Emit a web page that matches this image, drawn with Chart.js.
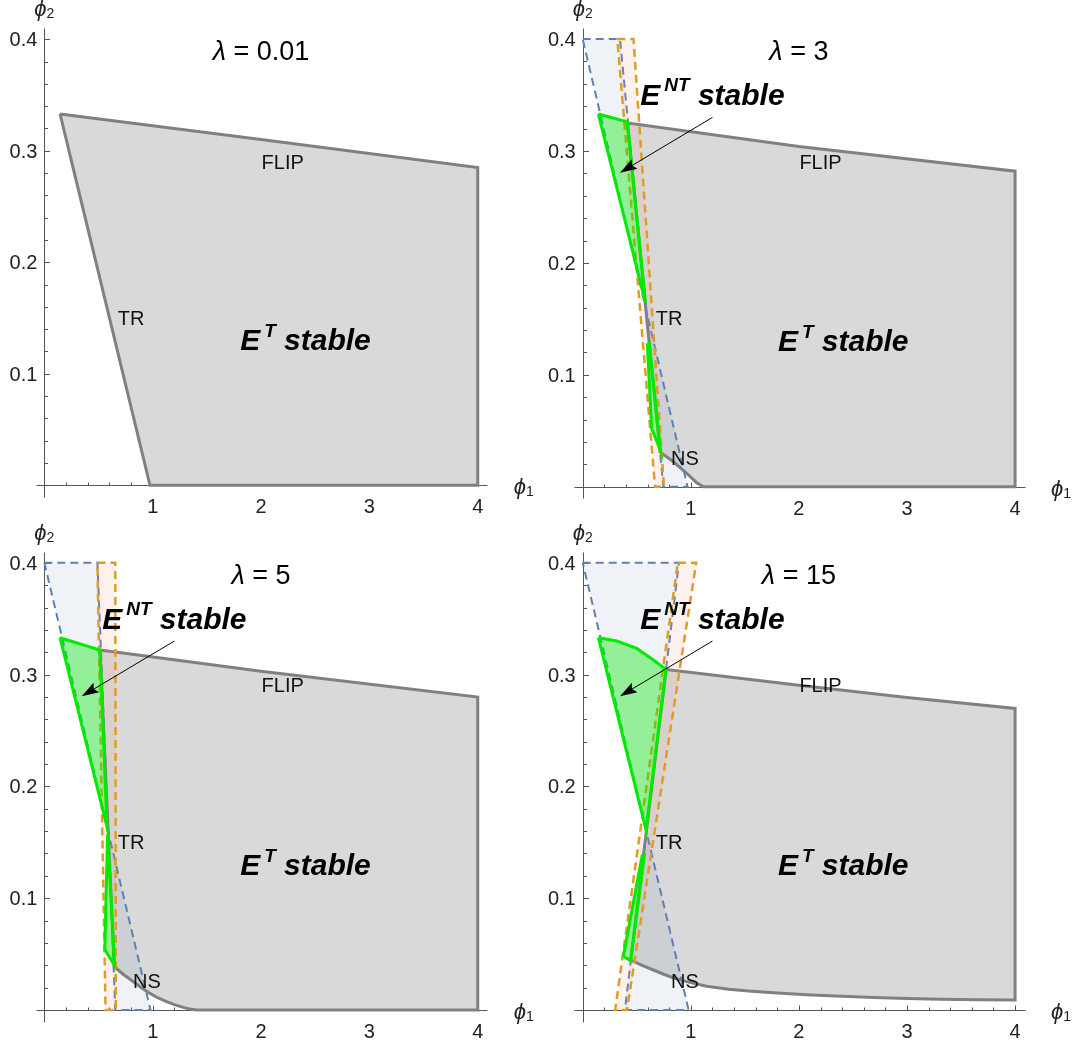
<!DOCTYPE html>
<html>
<head>
<meta charset="utf-8">
<script src="https://cdn.jsdelivr.net/npm/chart.js@4.4.0/dist/chart.umd.min.js"></script>
<style>
html, body { margin: 0; padding: 0; background: #fff; }
#wrap { position: relative; width: 1081px; height: 1042px; }
canvas { position: absolute; }
</style>
</head>
<body>
<div id="wrap">
  <canvas id="c1" width="540" height="520" style="left:0;top:0"></canvas>
  <canvas id="c2" width="541" height="520" style="left:540px;top:0"></canvas>
  <canvas id="c3" width="540" height="522" style="left:0;top:520px"></canvas>
  <canvas id="c4" width="541" height="522" style="left:540px;top:520px"></canvas>
</div>
<script>
// values, as (phi1, phi2) pairs
var lambdas = ['0.01', '3', '5', '15'];
var xMajor = [1, 2, 3, 4];
var yMajor = [0.1, 0.2, 0.3, 0.4];

var gray1 = [[0.145, 0.333], [2, 0.31], [4, 0.285], [4, 0], [0.975, 0], [0.145, 0.333]];

var gray2 = [[0.413, 0.325], [2, 0.304], [4, 0.282], [4, 0], [1.116, 0], [1.055, 0.0036], [0.962, 0.0119], [0.839, 0.0223], [0.715, 0.031], [0.413, 0.325]];
var blue2 = [[0, 0.4], [0.345, 0.4], [0.746, 0], [0.97, 0], [0, 0.4]];
var orange2 = [[0.32, 0.4], [0.47, 0.4], [0.752, 0], [0.669, 0], [0.32, 0.4]];
var greenTop2 = [[0.145, 0.333], [0.413, 0.326], [0.58, 0.165], [0.145, 0.333]];
var greenLow2 = [[0.598, 0.128], [0.617, 0.128], [0.72, 0.032], [0.638, 0.052], [0.598, 0.128]];

var gray3 = [[0.514, 0.322], [2, 0.303], [4, 0.28], [4, 0], [1.406, 0], [1.34, 0.001], [1.283, 0.0024], [1.2, 0.0048], [1.129, 0.0075], [1.05, 0.0108], [0.975, 0.0149], [0.9, 0.0198], [0.822, 0.0253], [0.73, 0.0318], [0.646, 0.0387], [0.514, 0.322]];
var blue3 = [[0, 0.4], [0.49, 0.4], [0.655, 0], [0.98, 0], [0, 0.4]];
var orange3 = [[0.49, 0.4], [0.655, 0.4], [0.66, 0], [0.565, 0], [0.49, 0.4]];
var greenTop3 = [[0.145, 0.333], [0.514, 0.322], [0.578, 0.164], [0.145, 0.333]];
var greenLow3 = [[0.584, 0.157], [0.648, 0.04], [0.558, 0.054], [0.584, 0.157]];

var gray4 = [[0.771, 0.3046], [2, 0.2905], [3, 0.2795], [4, 0.2697], [4, 0.0089], [3.65, 0.0092], [3.3, 0.0097], [3.0, 0.0104], [2.69, 0.0113], [2.4, 0.0123], [2.07, 0.0137], [1.8, 0.0152], [1.563, 0.0168], [1.35, 0.0186], [1.147, 0.0212], [0.95, 0.0256], [0.839, 0.0288], [0.75, 0.032], [0.654, 0.0358], [0.55, 0.04], [0.444, 0.0447], [0.771, 0.3046]];
var blue4 = [[0, 0.4], [0.89, 0.4], [0.39, 0], [0.98, 0], [0, 0.4]];
var orange4 = [[0.88, 0.4], [1.05, 0.4], [0.41, 0], [0.3, 0], [0.88, 0.4]];
var greenTop4 = [[0.145, 0.333], [0.315, 0.33], [0.5, 0.3234], [0.654, 0.313], [0.771, 0.3046], [0.586, 0.161], [0.145, 0.333]];
var greenLow4 = [[0.552, 0.139], [0.572, 0.139], [0.444, 0.044], [0.376, 0.048], [0.552, 0.139]];

// where the annotations sit, in axis units
var anchors = {
  title: [2.0, 0.381], flip: [2.2, 0.289], tr: [0.8, 0.149], ns: [0.946, 0.0246],
  et: [2.41, 0.121], ent: [1.2, 0.341], arrowFrom: [1.2, 0.33], arrowTo: [0.345, 0.2806]
};

var FONT = "'Liberation Sans', Arial, sans-serif";

var styles = {
  gray: { borderColor: '#808080', borderWidth: 3, areaColor: 'rgb(217,217,217)', order: 4 },
  blue: { borderColor: '#5e81b5', borderWidth: 2, borderDash: [8, 5], areaColor: 'rgba(94,129,181,0.1)', order: 3 },
  orange: { borderColor: '#e19c24', borderWidth: 2.5, borderDash: [8, 5], areaColor: 'rgba(235,140,110,0.12)', order: 2 },
  green: { borderColor: 'rgb(0,235,0)', borderWidth: 3, areaColor: 'rgba(0,235,0,0.38)', order: 1 }
};

function poly(pts, kind) {
  var s = styles[kind];
  return Object.assign({
    data: pts.map(function (p) { return { x: p[0], y: p[1] }; }),
    showLine: true, fill: false, tension: 0, pointRadius: 0, pointHitRadius: 0,
    borderJoinStyle: 'miter'
  }, s);
}

// fills each closed outline with the dataset's own area colour
var regionFill = {
  id: 'regionFill',
  beforeDatasetDraw: function (chart, args) {
    var ds = chart.data.datasets[args.index];
    if (!ds.areaColor) return;
    var pts = args.meta.data, ctx = chart.ctx;
    ctx.save();
    ctx.beginPath();
    pts.forEach(function (p, i) { if (i) ctx.lineTo(p.x, p.y); else ctx.moveTo(p.x, p.y); });
    ctx.closePath();
    ctx.fillStyle = ds.areaColor;
    ctx.fill();
    ctx.restore();
  }
};

function subscripted(ctx, sym, sub, x, base, subBase) {
  ctx.font = 'italic 22px ' + FONT;
  ctx.fillText(sym, x, base);
  var w = ctx.measureText(sym).width;
  ctx.font = '14px ' + FONT;
  ctx.fillText(sub, x + w, subBase);
}

// axes crossing at the origin, Mathematica style
var crossAxes = {
  id: 'crossAxes',
  beforeDatasetsDraw: function (chart) {
    var ctx = chart.ctx, xs = chart.scales.x, ys = chart.scales.y;
    var X = function (v) { return Math.round(xs.getPixelForValue(v)) + 0.5; };
    var Y = function (v) { return Math.round(ys.getPixelForValue(v)) + 0.5; };
    ctx.save();
    ctx.strokeStyle = '#555';
    ctx.lineWidth = 1;
    ctx.beginPath();
    ctx.moveTo(X(-0.077), Y(0)); ctx.lineTo(X(4.09), Y(0));
    ctx.moveTo(X(0), Y(-0.0105)); ctx.lineTo(X(0), Y(0.41));
    var i, len;
    for (i = 1; i <= 20; i++) {
      len = i % 5 === 0 ? 5 : 3;
      ctx.moveTo(X(i * 0.2), Y(0)); ctx.lineTo(X(i * 0.2), Y(0) - len);
    }
    for (i = 1; i <= 20; i++) {
      len = i % 5 === 0 ? 5.5 : 3.5;
      ctx.moveTo(X(0), Y(i * 0.02)); ctx.lineTo(X(0) + len, Y(i * 0.02));
    }
    ctx.stroke();
    ctx.restore();
  },
  afterDraw: function (chart) {
    var ctx = chart.ctx, xs = chart.scales.x, ys = chart.scales.y;
    var X = function (v) { return xs.getPixelForValue(v); };
    var Y = function (v) { return ys.getPixelForValue(v); };
    ctx.save();
    ctx.fillStyle = '#222';
    ctx.font = '20px ' + FONT;
    ctx.textAlign = 'center';
    ctx.textBaseline = 'alphabetic';
    xMajor.forEach(function (v) { ctx.fillText(String(v), X(v), Y(0) + 28); });
    ctx.textAlign = 'right';
    yMajor.forEach(function (v) { ctx.fillText(v.toFixed(1), X(0) - 7, Y(v) + 7); });
    ctx.textAlign = 'left';
    subscripted(ctx, 'ϕ', '2', X(0) - 10, Y(0.4) - 23, Y(0.4) - 21);
    subscripted(ctx, 'ϕ', '1', X(4) + 36, Y(0) + 9, Y(0) + 11);
    ctx.restore();
  }
};

function richText(ctx, parts, cx, base) {
  var total = 0;
  parts.forEach(function (p) {
    ctx.font = p.font;
    p.w = ctx.measureText(p.text).width;
    total += p.w + (p.pre || 0);
  });
  var x = cx - total / 2;
  parts.forEach(function (p) {
    ctx.font = p.font;
    x += p.pre || 0;
    ctx.fillText(p.text, x, base + (p.dy || 0));
    x += p.w;
  });
}

function arrow(ctx, x1, y1, x2, y2) {
  var a = Math.atan2(y2 - y1, x2 - x1), L = 17, W = 5.5;
  var c = Math.cos(a), s = Math.sin(a);
  var bx = x2 - L * c, by = y2 - L * s;
  ctx.beginPath();
  ctx.moveTo(x1, y1); ctx.lineTo(bx + 3 * c, by + 3 * s);
  ctx.lineWidth = 1; ctx.strokeStyle = '#000';
  ctx.stroke();
  ctx.beginPath();
  ctx.moveTo(x2, y2);
  ctx.lineTo(bx - W * s, by + W * c);
  ctx.lineTo(bx + 3 * c, by + 3 * s);
  ctx.lineTo(bx + W * s, by - W * c);
  ctx.closePath();
  ctx.fillStyle = '#000';
  ctx.fill();
}

var annotations = {
  id: 'annotations',
  afterDatasetsDraw: function (chart, args, opts) {
    var ctx = chart.ctx, xs = chart.scales.x, ys = chart.scales.y;
    var X = function (v) { return xs.getPixelForValue(v); };
    var Y = function (v) { return ys.getPixelForValue(v); };
    ctx.save();
    ctx.fillStyle = '#000';
    ctx.textBaseline = 'alphabetic';
    ctx.textAlign = 'left';
    richText(ctx, [
      { text: 'λ', font: 'italic 27px ' + FONT },
      { text: ' = ' + opts.lambda, font: '27px ' + FONT }
    ], X(anchors.title[0]), Y(anchors.title[1]));

    ctx.textAlign = 'center';
    ctx.textBaseline = 'middle';
    ctx.font = '20px ' + FONT;
    ctx.fillStyle = '#111';
    ctx.fillText('FLIP', X(anchors.flip[0]), Y(anchors.flip[1]));
    ctx.fillText('TR', X(anchors.tr[0]), Y(anchors.tr[1]));
    if (opts.nt) ctx.fillText('NS', X(anchors.ns[0]), Y(anchors.ns[1]));

    ctx.textAlign = 'left';
    ctx.textBaseline = 'alphabetic';
    ctx.fillStyle = '#000';
    var big = 'italic bold 30px ' + FONT, small = 'italic bold 19px ' + FONT;
    richText(ctx, [
      { text: 'E', font: big },
      { text: 'T', font: small, dy: -13, pre: 4 },
      { text: ' stable', font: big }
    ], X(anchors.et[0]), Y(anchors.et[1]));
    if (opts.nt) {
      richText(ctx, [
        { text: 'E', font: big },
        { text: 'NT', font: small, dy: -14, pre: 4 },
        { text: ' stable', font: big }
      ], X(anchors.ent[0]), Y(anchors.ent[1]));
      arrow(ctx, X(anchors.arrowFrom[0]), Y(anchors.arrowFrom[1]), X(anchors.arrowTo[0]), Y(anchors.arrowTo[1]));
    }
    ctx.restore();
  }
};

var panels = [
  { id: 'c1', sets: [poly(gray1, 'gray')], nt: false,
    pad: { left: 33.5, right: 46, top: 28.1, bottom: 12.4 } },
  { id: 'c2', sets: [poly(gray2, 'gray'), poly(blue2, 'blue'), poly(orange2, 'orange'), poly(greenTop2, 'green'), poly(greenLow2, 'green')], nt: true,
    pad: { left: 31.9, right: 49.7, top: 27.9, bottom: 10.9 } },
  { id: 'c3', sets: [poly(gray3, 'gray'), poly(blue3, 'blue'), poly(orange3, 'orange'), poly(greenTop3, 'green'), poly(greenLow3, 'green')], nt: true,
    pad: { left: 33.5, right: 46, top: 31.6, bottom: 9.6 } },
  { id: 'c4', sets: [poly(gray4, 'gray'), poly(blue4, 'blue'), poly(orange4, 'orange'), poly(greenTop4, 'green'), poly(greenLow4, 'green')], nt: true,
    pad: { left: 31.9, right: 49.7, top: 31.6, bottom: 9.6 } }
];

panels.forEach(function (p, k) {
  new Chart(p.id, {
    type: 'scatter',
    data: { datasets: p.sets },
    options: {
      responsive: false,
      animation: false,
      events: [],
      layout: { padding: p.pad },
      scales: {
        x: { type: 'linear', min: -0.1, max: 4.15, bounds: 'data', display: false },
        y: { type: 'linear', min: -0.02, max: 0.41, bounds: 'data', display: false }
      },
      plugins: {
        legend: { display: false },
        tooltip: { enabled: false },
        annotations: { lambda: lambdas[k], nt: p.nt }
      }
    },
    plugins: [regionFill, crossAxes, annotations]
  });
});
</script>
</body>
</html>
